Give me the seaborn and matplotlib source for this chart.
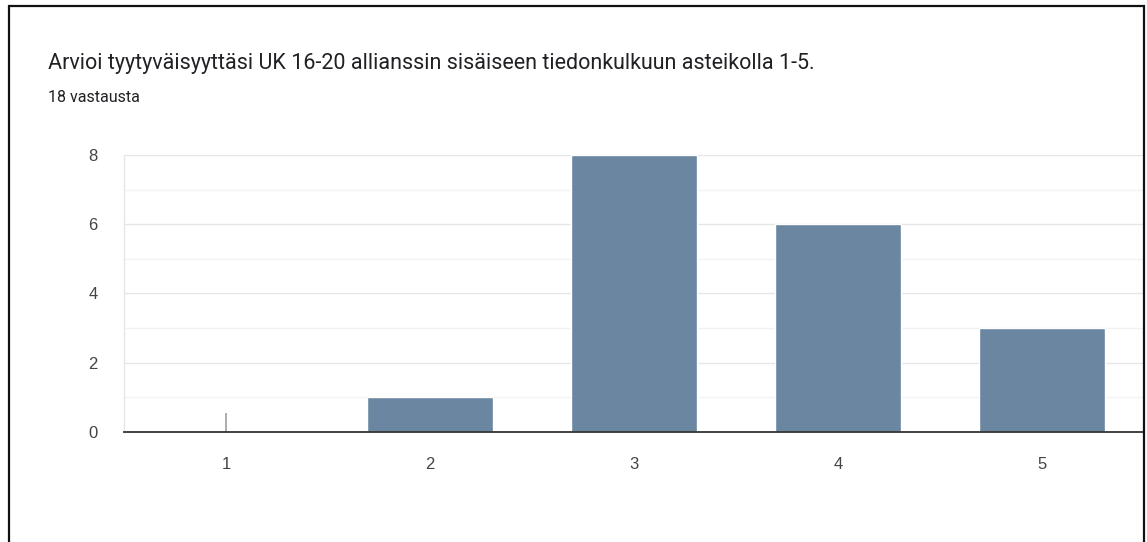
import matplotlib
matplotlib.use("Agg")
import matplotlib.pyplot as plt
import seaborn as sns
import pandas as pd
from matplotlib.patches import Rectangle

# Survey answers: rating scale and number of responses per rating
ratings = ["1", "2", "3", "4", "5"]
counts = [0, 1, 8, 6, 3]
title = "Arvioi tyytyväisyyttäsi UK 16-20 allianssin sisäiseen tiedonkulkuun asteikolla 1-5."
subtitle = "18 vastausta"

df = pd.DataFrame({"rating": ratings, "count": counts})

sns.set_theme(style="white")
plt.rcParams["font.family"] = ["Roboto", "DejaVu Sans"]

fig = plt.figure(figsize=(11.47, 5.42), dpi=100)
ax = fig.add_axes([124 / 1147, 0.203, (1144 - 124) / 1147, 0.511])

bar_color = "#6a86a0"
sns.barplot(data=df, x="rating", y="count", color=bar_color, width=0.62,
            saturation=1, ax=ax, zorder=3)

# zero-count categories get a thin stub marker
for i, c in enumerate(counts):
    if c == 0:
        ax.vlines(i, 0, 0.55, color="#9e9e9e", lw=1.2, zorder=3)

ax.set_xlim(-0.5, 4.5)
ax.set_ylim(0, 8)
ax.set_yticks([0, 2, 4, 6, 8])
ax.set_yticks([1, 3, 5, 7], minor=True)
ax.grid(axis="y", which="major", color="#e6e6e6", lw=1.0, zorder=0)
ax.grid(axis="y", which="minor", color="#f2f2f2", lw=1.0, zorder=0)
ax.set_axisbelow(True)

for s in ["top", "right"]:
    ax.spines[s].set_visible(False)
ax.spines["left"].set_color("#e6e6e6")
ax.spines["left"].set_linewidth(1.0)
ax.spines["bottom"].set_color("#333333")
ax.spines["bottom"].set_linewidth(1.3)
ax.spines["bottom"].set_zorder(4)

ax.set_xlabel("")
ax.set_ylabel("")
for lab in ax.get_xticklabels() + ax.get_yticklabels():
    lab.set_family(["Liberation Sans", "DejaVu Sans"])
ax.tick_params(axis="x", length=0, pad=18, labelsize=12, labelcolor="#444444")
ax.tick_params(axis="y", which="both", length=0, pad=19, labelsize=12, labelcolor="#444444")

fig.text(48 / 1147, 1 - 64 / 542, title, fontsize=15.5, color="#202124",
         ha="left", va="center")
fig.text(48 / 1147, 1 - 98 / 542, subtitle, fontsize=11.5, color="#202124",
         ha="left", va="center")

# card outline
fig.patches.append(Rectangle((9 / 1147, -0.02), (1144 - 9) / 1147, 1 - 6 / 542 + 0.02,
                             transform=fig.transFigure, fill=False,
                             edgecolor="#111111", lw=1.6, zorder=10))

fig.savefig("out.png", dpi=100, facecolor="white")
